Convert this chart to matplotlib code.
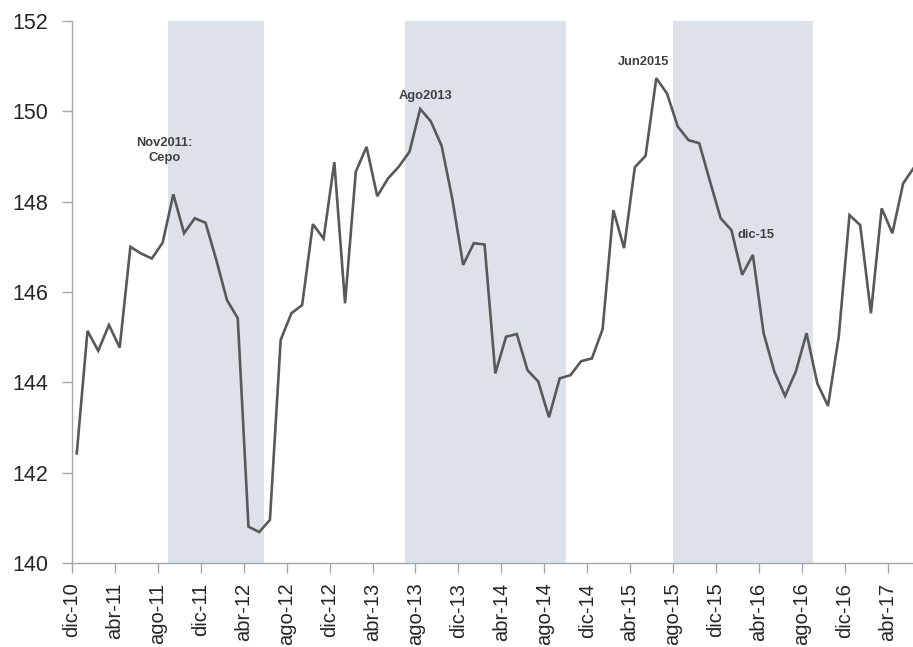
import matplotlib
matplotlib.use("Agg")
import matplotlib.pyplot as plt
import numpy as np

# Monthly series, dic-10 .. jun-17
values = [142.43, 145.14, 144.70, 145.27, 144.77, 147.00, 146.85, 146.74, 147.09, 148.16,
          147.30, 147.63, 147.53, 146.71, 145.82, 145.42, 140.81, 140.69, 140.96, 144.94,
          145.53, 145.71, 147.50, 147.18, 148.87, 145.75, 148.66, 149.21, 148.12, 148.51,
          148.77, 149.10, 150.05, 149.77, 149.23, 148.05, 146.60, 147.08, 147.05, 144.20,
          145.01, 145.07, 144.27, 144.02, 143.23, 144.09, 144.16, 144.47, 144.53, 145.18,
          147.81, 146.97, 148.76, 149.01, 150.73, 150.39, 149.66, 149.36, 149.29, 148.45,
          147.63, 147.37, 146.38, 146.82, 145.09, 144.24, 143.70, 144.24, 145.09, 143.98,
          143.48, 145.01, 147.70, 147.48, 145.53, 147.85, 147.30, 148.40, 148.75]

tick_labels = ["dic-10", "abr-11", "ago-11", "dic-11", "abr-12", "ago-12", "dic-12",
               "abr-13", "ago-13", "dic-13", "abr-14", "ago-14", "dic-14", "abr-15",
               "ago-15", "dic-15", "abr-16", "ago-16", "dic-16", "abr-17"]

# shaded periods (in months from dic-10)
shade_periods = [(8.92, 17.92), (31.02, 45.99), (56.0, 69.0)]

annotations = [("Nov2011:\nCepo", 8.6, 149.13),
               ("Ago2013", 32.95, 150.33),
               ("Jun2015", 53.23, 151.09),
               ("dic-15", 63.7, 147.26)]

fig = plt.figure(figsize=(9.13, 6.47), dpi=100)
ax = fig.add_axes([0.0789, 0.1294, 0.9211, 0.8386])

x = np.arange(len(values)) + 0.44
for a, b in shade_periods:
    ax.axvspan(a, b, color="#dce1ea", zorder=0, lw=0)
ax.plot(x, values, color="#595959", lw=1.9, zorder=3, solid_joinstyle="miter")

for txt, xa, ya in annotations:
    ax.text(xa, ya, txt, ha="center", va="center", fontsize=9.3, fontweight="bold",
            color="#404040", family="Liberation Sans", linespacing=1.35, zorder=4)

ax.set_xlim(0, 78.36)
ax.set_ylim(140, 152)
ax.set_yticks(np.arange(140, 153, 2))
ax.set_yticklabels([str(v) for v in range(140, 153, 2)])
ax.set_xticks(np.arange(len(tick_labels)) * 4)
ax.set_xticklabels(tick_labels, rotation=90)

for s in ["top", "right"]:
    ax.spines[s].set_visible(False)
for s in ["left", "bottom"]:
    ax.spines[s].set_color("#a6a6a6")
    ax.spines[s].set_linewidth(1.0)
ax.tick_params(axis="x", length=7, width=1, color="#a6a6a6", pad=7,
               labelsize=14.5, labelcolor="#262626")
ax.tick_params(axis="y", length=7, width=1, color="#a6a6a6", pad=10,
               labelsize=15.5, labelcolor="#262626")
for lab in ax.get_xticklabels() + ax.get_yticklabels():
    lab.set_family("Liberation Sans")

fig.savefig("out.png", dpi=100)
